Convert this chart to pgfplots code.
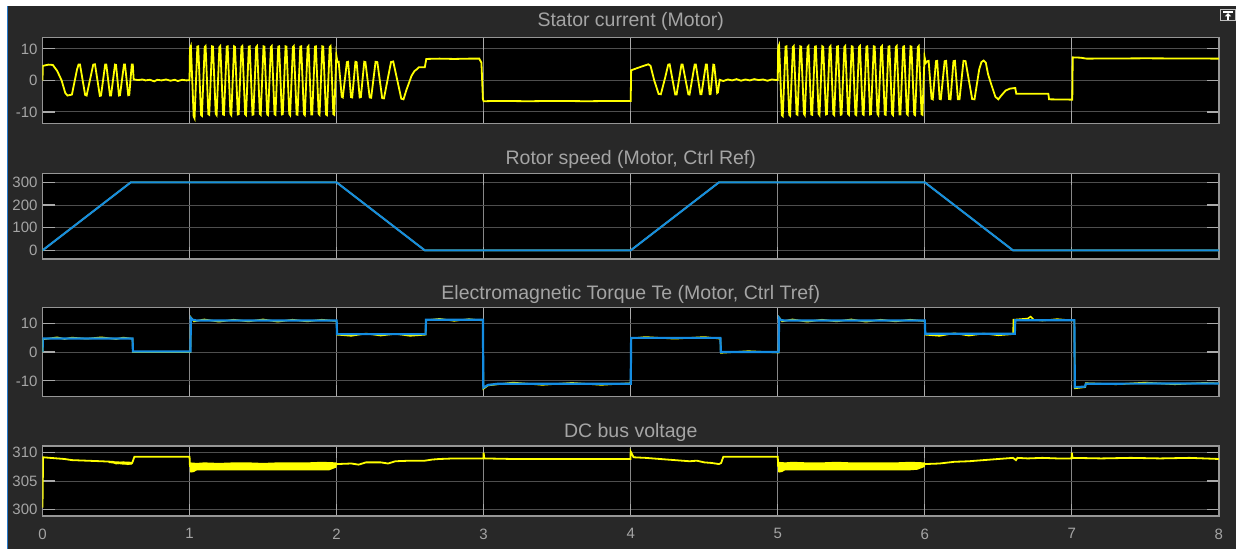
\documentclass[border=0pt]{standalone}
\usepackage{pgfplots}
\pgfplotsset{compat=1.18}
\usepackage{fontspec}
\setmainfont{Liberation Sans}
\definecolor{bgdark}{RGB}{40,40,40}
\definecolor{bordercol}{RGB}{150,150,150}
\definecolor{vgrid}{RGB}{135,135,135}
\definecolor{hgrid}{RGB}{78,78,78}
\definecolor{tickcol}{RGB}{170,170,170}
\definecolor{labelcol}{RGB}{165,165,165}
\definecolor{sigyellow}{RGB}{255,255,0}
\definecolor{sigblue}{RGB}{20,140,225}
\definecolor{edgeblue}{RGB}{40,120,200}
\pgfplotsset{
  scopeaxis/.style={
    scale only axis, width=1176.5pt, xmin=0, xmax=8,
    axis background/.style={fill=black},
    axis line style={draw=bordercol, line width=1.2pt},
    xtick={0,1,2,3,4,5,6,7,8}, xticklabels={},
    grid=major,
    x grid style={vgrid, line width=1pt},
    y grid style={hgrid, line width=1pt},
    tick align=inside, major tick length=12pt,
    tick style={tickcol, line width=1.2pt},
    tick label style={font=\fontsize{15}{15}\selectfont, text=labelcol},
    yticklabel style={xshift=-1.5pt},
    anchor=north west,
  }
}
\begin{document}
\begin{tikzpicture}
\path[use as bounding box] (0,0) rectangle (1236pt,-549pt);
\fill[bgdark] (0,0) rectangle (1236pt,-549pt);
\fill[white] (0,0) rectangle (1236pt,-6pt);
\fill[white] (0,0) rectangle (6.5pt,-549pt);
\fill[edgeblue] (6.5pt,-6pt) rectangle (8pt,-549pt);

% ---------- Panel 1: stator current
\begin{axis}[scopeaxis, at={(42.5pt,-37.5pt)}, height=85.8pt,
  ymin=-13.6, ymax=13.6, ytick={-10,0,10}, yticklabels={-10,0,10}]
\addplot[sigyellow, line width=1.8pt] coordinates {
(0,0) (0.002,4.6) (0.04,5.0) (0.07,4.9) (0.10,3.0) (0.13,0.0) (0.155,-4.0) (0.17,-4.8) (0.20,-4.5)
(0.235,3.5) (0.245,5.0) (0.255,5.0) (0.29,-4.6) (0.30,-4.8) (0.345,5.0) (0.357,5.1) (0.39,-4.9) (0.398,-4.8)
(0.426,5.0) (0.434,5.0) (0.459,-4.8) (0.466,-4.8) (0.493,5.0) (0.500,4.9) (0.520,-4.8) (0.527,-4.7)
(0.554,5.0) (0.561,5.0) (0.583,-4.7) (0.590,-4.6) (0.607,5.0) (0.614,5.0) (0.620,0.3)
(0.65,0.1) (0.68,0.3) (0.70,0.0) (0.73,0.2) (0.76,-0.3) (0.78,0.2) (0.81,0.0) (0.84,0.3) (0.87,-0.1)
(0.90,0.2) (0.92,-0.2) (0.95,0.2) (0.98,0.0) (1.0,0.1)
(1.003,10.2) (1.009,10.9) (1.028,-11.4) (1.034,-12.0)
(1.053,10.7) (1.059,10.8) (1.078,-10.9) (1.084,-11.2)
(1.103,10.6) (1.109,10.9) (1.128,-10.7) (1.134,-10.9)
(1.153,10.8) (1.159,10.7) (1.178,-10.6) (1.184,-11.0)
(1.203,10.6) (1.209,10.9) (1.228,-10.8) (1.234,-10.9)
(1.253,10.7) (1.259,10.8) (1.278,-10.6) (1.284,-11.0)
(1.303,10.8) (1.309,10.6) (1.328,-10.8) (1.334,-10.7)
(1.353,10.6) (1.359,10.9) (1.378,-10.7) (1.384,-11.0)
(1.403,10.7) (1.409,10.8) (1.428,-10.9) (1.434,-10.8)
(1.453,10.6) (1.459,10.9) (1.478,-10.6) (1.484,-10.9)
(1.503,10.8) (1.509,10.7) (1.528,-10.8) (1.534,-11.0)
(1.553,10.6) (1.559,10.9) (1.578,-10.7) (1.584,-10.9)
(1.603,10.7) (1.609,10.8) (1.628,-10.8) (1.634,-10.7)
(1.653,10.8) (1.659,10.7) (1.678,-10.6) (1.684,-11.0)
(1.703,10.6) (1.709,10.9) (1.728,-10.8) (1.734,-10.9)
(1.753,10.7) (1.759,10.8) (1.778,-10.7) (1.784,-11.0)
(1.803,10.6) (1.809,10.9) (1.828,-10.8) (1.834,-10.8)
(1.853,10.7) (1.859,10.8) (1.878,-10.6) (1.884,-10.9)
(1.903,10.8) (1.909,10.7) (1.928,-10.8) (1.934,-11.0)
(1.953,10.6) (1.959,10.9) (1.978,-10.7) (1.984,-10.9)
(1.998,8.0) (2.006,5.8) (2.014,5.9) (2.035,-5.2) (2.042,-5.4) (2.07,5.8) (2.078,5.9) (2.098,-5.3) (2.106,-5.4)
(2.128,5.9) (2.136,5.8) (2.157,-5.4) (2.165,-5.3) (2.188,5.9) (2.196,5.8) (2.225,-5.4) (2.235,-5.5)
(2.265,5.9) (2.277,5.8) (2.31,-5.6) (2.322,-5.7) (2.37,5.8) (2.385,6.0) (2.44,-5.8) (2.455,-6.0)
(2.475,-3.0) (2.51,1.5) (2.53,3.0) (2.545,3.5) (2.56,4.2) (2.60,4.2) (2.61,6.8) (2.7,6.9) (2.8,6.8)
(2.9,6.9) (2.97,6.9) (2.985,5.6) (2.995,-6.0) (3.0,-6.6) (3.1,-6.5) (3.3,-6.6) (3.5,-6.5) (3.7,-6.6)
(3.9,-6.5) (4.0,-6.5)
(4.003,3.2) (4.05,4.0) (4.1,4.8) (4.12,5.1) (4.135,4.6) (4.16,0) (4.19,-4.3) (4.205,-4.4) (4.235,1.0)
(4.255,5.0) (4.265,5.1) (4.303,-4.5) (4.312,-4.5) (4.345,5.0) (4.353,5.0) (4.392,-4.4) (4.40,-4.5)
(4.435,5.0) (4.443,5.0) (4.474,-4.4) (4.481,-4.4) (4.511,5.0) (4.518,5.0) (4.537,-4.4) (4.543,-4.4)
(4.562,5.0) (4.568,4.9) (4.588,-4.0) (4.593,-3.8) (4.605,0.2)
(4.63,-0.2) (4.66,0.3) (4.69,0.0) (4.72,0.4) (4.75,-0.1) (4.78,0.3) (4.81,0.0) (4.84,0.4) (4.87,0.1)
(4.90,0.3) (4.93,-0.1) (4.96,0.3) (4.99,0.1) (5.0,0.1)
(5.003,10.5) (5.009,11.2) (5.028,-11.0) (5.034,-11.3)
(5.053,10.7) (5.059,10.8) (5.078,-10.9) (5.084,-11.2)
(5.103,10.6) (5.109,10.9) (5.128,-10.7) (5.134,-10.9)
(5.153,10.8) (5.159,10.7) (5.178,-10.6) (5.184,-11.0)
(5.203,10.6) (5.209,10.9) (5.228,-10.8) (5.234,-10.9)
(5.253,10.7) (5.259,10.8) (5.278,-10.6) (5.284,-11.0)
(5.303,10.8) (5.309,10.6) (5.328,-10.8) (5.334,-10.7)
(5.353,10.6) (5.359,10.9) (5.378,-10.7) (5.384,-11.0)
(5.403,10.7) (5.409,10.8) (5.428,-10.9) (5.434,-10.8)
(5.453,10.6) (5.459,10.9) (5.478,-10.6) (5.484,-10.9)
(5.503,10.8) (5.509,10.7) (5.528,-10.8) (5.534,-11.0)
(5.553,10.6) (5.559,10.9) (5.578,-10.7) (5.584,-10.9)
(5.603,10.7) (5.609,10.8) (5.628,-10.8) (5.634,-10.7)
(5.653,10.8) (5.659,10.7) (5.678,-10.6) (5.684,-11.0)
(5.703,10.6) (5.709,10.9) (5.728,-10.8) (5.734,-10.9)
(5.753,10.7) (5.759,10.8) (5.778,-10.7) (5.784,-11.0)
(5.803,10.6) (5.809,10.9) (5.828,-10.8) (5.834,-10.8)
(5.853,10.7) (5.859,10.8) (5.878,-10.6) (5.884,-10.9)
(5.903,10.8) (5.909,10.7) (5.928,-10.8) (5.934,-11.0)
(5.953,10.6) (5.959,10.9) (5.978,-10.7) (5.984,-10.9)
(5.998,7.5) (6.006,5.5) (6.018,6.1) (6.026,6.2) (6.046,-5.8) (6.054,-6.0) (6.076,6.1) (6.084,6.2)
(6.101,-5.9) (6.109,-6.0) (6.135,6.1) (6.145,6.2) (6.165,-5.9) (6.175,-6.0) (6.195,6.1) (6.205,6.2)
(6.225,-6.0) (6.236,-6.0) (6.263,6.2) (6.277,6.1) (6.322,-5.9) (6.338,-6.0) (6.37,3.5) (6.385,5.8)
(6.40,6.3) (6.415,5.6) (6.43,2.0) (6.45,-1.0) (6.48,-5.2) (6.50,-6.0) (6.52,-4.8) (6.55,-3.2)
(6.58,-2.6) (6.615,-2.4) (6.622,-4.2) (6.84,-4.2) (6.845,-6.0) (7.003,-6.1) (7.006,7.3) (7.06,7.2)
(7.1,6.9) (7.5,7.0) (8.0,6.9)
};
\end{axis}

% ---------- Panel 2: rotor speed
\begin{axis}[scopeaxis, at={(42.5pt,-173.3pt)}, height=85.7pt,
  ymin=-38, ymax=340, ytick={0,100,200,300}, yticklabels={0,100,200,300}]
\addplot[sigyellow, line width=1.5pt] coordinates {
(0,0) (0.6,300) (2.0,300) (2.6,0) (4.0,0) (4.6,300) (6.0,300) (6.6,0) (8,0)};
\addplot[sigblue, line width=2pt] coordinates {
(0,0) (0.6,300) (2.0,300) (2.6,0) (4.0,0) (4.6,300) (6.0,300) (6.6,0) (8,0)};
\end{axis}

% ---------- Panel 3: torque
\begin{axis}[scopeaxis, at={(42.5pt,-307.3pt)}, height=89.4pt,
  ymin=-15.5, ymax=15.5, ytick={-10,0,10}, yticklabels={-10,0,10}]
\addplot[sigyellow, line width=1.5pt] coordinates {
(0,0) (0.003,4.4) (0.1,5.1) (0.15,4.5) (0.2,5.0) (0.3,4.6) (0.4,5.1) (0.5,4.5) (0.55,5.0) (0.612,4.6)
(0.615,0.0) (1.006,0.0) (1.009,12.0) (1.03,10.6) (1.1,11.3) (1.2,10.5) (1.3,11.2) (1.4,10.6) (1.5,11.3)
(1.6,10.5) (1.7,11.2) (1.8,10.6) (1.9,11.2) (2.0,10.7) (2.003,6.0) (2.1,5.6) (2.2,6.4) (2.3,5.7)
(2.4,6.3) (2.5,5.6) (2.605,6.0) (2.608,11.0) (2.7,11.5) (2.8,10.8) (2.9,11.4) (2.995,10.9)
(2.998,-12.8) (3.03,-11.6) (3.2,-10.6) (3.4,-11.4) (3.6,-10.7) (3.8,-11.4) (4.0,-10.8) (4.003,4.7)
(4.1,5.2) (4.3,4.6) (4.5,5.2) (4.61,4.6) (4.613,-0.3) (4.8,0.3) (5.006,-0.2) (5.009,12.0) (5.03,10.6)
(5.1,11.3) (5.2,10.5) (5.3,11.2) (5.4,10.6) (5.5,11.3) (5.6,10.5) (5.7,11.2) (5.8,10.6) (5.9,11.2)
(6.0,10.7) (6.003,6.0) (6.1,5.6) (6.2,6.5) (6.3,5.7) (6.4,6.4) (6.5,5.8) (6.6,6.2) (6.603,11.2)
(6.7,11.6) (6.72,12.3) (6.74,11.2) (6.8,10.9) (6.9,11.4) (7.017,10.9) (7.02,-12.6) (7.09,-12.2)
(7.095,-10.8) (7.3,-11.2) (7.5,-10.6) (7.7,-11.2) (7.9,-10.7) (8.0,-10.9)};
\addplot[sigblue, line width=2.2pt] coordinates {
(0,0) (0.003,4.7) (0.612,4.7) (0.615,0.2) (1.006,0.2) (1.009,11.8) (1.02,11.2) (1.05,10.9) (2.0,10.9)
(2.003,6.2) (2.605,6.2) (2.608,11.2) (2.995,11.2) (2.998,-12.4) (3.03,-11.4) (3.1,-11.0) (4.0,-11.0)
(4.003,4.9) (4.61,4.9) (4.613,0.0) (5.006,0.0) (5.009,11.8) (5.02,11.1) (5.05,10.9) (6.0,10.9)
(6.003,6.3) (6.612,6.3) (6.615,11.0) (7.017,11.0) (7.02,-12.2) (7.09,-12.0) (7.095,-11.0) (8.0,-10.9)};
\end{axis}

% ---------- Panel 4: DC bus voltage
\begin{axis}[scopeaxis, at={(42.5pt,-446pt)}, height=70pt,
  ymin=298.8, ymax=311.2, ytick={300,305,310}, yticklabels={300,305,310},
  xticklabels={0,1,2,3,4,5,6,7,8}, xticklabel style={yshift=-9pt}]
\addplot[sigyellow, fill=sigyellow, draw=none] coordinates {
(0.45,308.5) (0.61,308.4) (0.61,307.9) (0.55,307.9) (0.45,308.2)} -- cycle;
\addplot[sigyellow, fill=sigyellow, draw=none] coordinates {
(1.003,308.3) (1.05,308.2) (1.1,308.3) (1.2,308.2) (1.3,308.3) (1.4,308.3) (1.5,308.2) (1.6,308.3)
(1.7,308.3) (1.8,308.3) (1.9,308.4) (2.0,308.3) (2.0,307.4) (1.95,306.9) (1.9,306.9) (1.8,306.9)
(1.6,306.9) (1.4,306.9) (1.2,306.9) (1.05,306.9) (1.03,306.6) (1.01,306.5) (1.003,306.6)} -- cycle;
\addplot[sigyellow, fill=sigyellow, draw=none] coordinates {
(5.003,308.4) (5.05,308.3) (5.1,308.4) (5.2,308.3) (5.3,308.3) (5.4,308.4) (5.5,308.3) (5.6,308.3)
(5.7,308.3) (5.8,308.3) (5.9,308.4) (6.0,308.3) (6.0,307.5) (5.95,307.0) (5.9,306.9) (5.8,306.9)
(5.6,306.9) (5.4,306.9) (5.2,306.9) (5.05,306.9) (5.03,306.6) (5.01,306.5) (5.003,306.6)} -- cycle;
\addplot[sigyellow, line width=1.8pt] coordinates {
(0,300.3) (0.004,309.2) (0.1,309.0) (0.15,308.9) (0.2,308.7) (0.3,308.6) (0.4,308.5) (0.48,308.4)
(0.5,308.1) (0.55,308.3) (0.58,308.0) (0.61,308.2) (0.625,309.3) (1.0,309.3) (1.003,307.5)};
\addplot[sigyellow, line width=1.8pt] coordinates {
(1.998,307.8) (2.0,308.0) (2.1,308.1) (2.15,307.9) (2.2,308.3) (2.3,308.3) (2.35,308.1) (2.4,308.5)
(2.5,308.6) (2.6,308.6) (2.65,308.8) (2.7,308.9) (2.8,309.0) (2.9,309.0) (2.998,309.0) (3.0,310.0)
(3.004,309.0) (3.2,308.9) (3.5,308.9) (3.8,308.9) (3.998,308.9) (4.0,310.2) (4.02,309.2) (4.1,309.1)
(4.2,308.9) (4.3,308.7) (4.4,308.5) (4.45,308.6) (4.5,308.3) (4.55,308.2) (4.6,308.0) (4.615,308.2)
(4.63,309.3) (5.0,309.3) (5.003,307.5)};
\addplot[sigyellow, line width=1.8pt] coordinates {
(5.998,307.8) (6.0,308.0) (6.1,308.1) (6.2,308.4) (6.3,308.5) (6.4,308.7) (6.5,308.9) (6.55,309.0)
(6.6,309.1) (6.62,308.7) (6.63,309.1) (6.7,309.0) (6.8,309.1) (6.9,309.0) (6.998,309.0) (7.0,310.0)
(7.004,309.1) (7.2,309.0) (7.4,309.1) (7.6,309.0) (7.8,309.1) (8.0,308.9)};
\end{axis}

% titles
\node[font=\fontsize{19.5}{20}\selectfont, text=labelcol] at (630.75pt,-21.7pt) {Stator current (Motor)};
\node[font=\fontsize{19.5}{20}\selectfont, text=labelcol] at (630.75pt,-159.2pt) {Rotor speed (Motor, Ctrl Ref)};
\node[font=\fontsize{19.5}{20}\selectfont, text=labelcol] at (630.75pt,-294pt) {Electromagnetic Torque Te (Motor, Ctrl Tref)};
\node[font=\fontsize{19.5}{20}\selectfont, text=labelcol] at (630.75pt,-432.3pt) {DC bus voltage};

% icon
\draw[bordercol!60!white, line width=1pt, fill=bgdark] (1220.7pt,-9.3pt) rectangle (1235.3pt,-20.7pt);
\draw[white, line width=1.2pt] (1223pt,-12pt) -- (1233pt,-12pt);
\fill[white] (1228pt,-13pt) -- (1224.8pt,-16.3pt) -- (1231.2pt,-16.3pt) -- cycle;
\draw[white, line width=1.5pt] (1228pt,-16pt) -- (1228pt,-19.5pt);
\end{tikzpicture}
\end{document}
